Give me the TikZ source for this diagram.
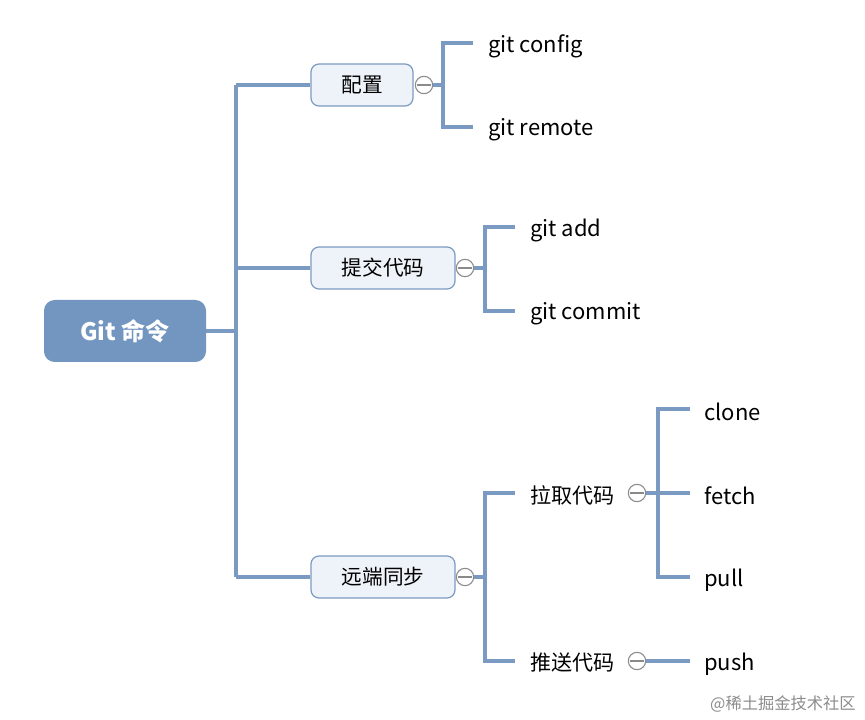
\documentclass[tikz,border=0pt]{standalone}
\usepackage{fontspec}
\setmainfont{Noto Sans CJK SC}
\definecolor{branch}{HTML}{7B9AC2}
\definecolor{rootfill}{HTML}{7296C0}
\definecolor{boxfill}{HTML}{EEF3F9}
\definecolor{collgray}{HTML}{8A8A8A}
\begin{document}
\begin{tikzpicture}[x=0.75pt,y=-0.75pt,
  conn/.style={draw=branch, line width=2.4pt},
  topic/.style={draw=branch, line width=0.9pt, fill=boxfill, rounded corners=6pt,
    minimum height=31.5pt, inner sep=0pt, font=\fontsize{15.5}{17}\selectfont},
  collapse/.style={circle, draw=collgray, fill=white, line width=0.8pt, minimum size=13pt, inner sep=0pt,
    path picture={\draw[collgray,line width=0.8pt] ([xshift=-5pt]path picture bounding box.center) -- ([xshift=5pt]path picture bounding box.center);}},
  leaf/.style={anchor=west, inner sep=0pt, font=\fontsize{16.5}{19}\selectfont},
  sub/.style={anchor=west, inner sep=0pt, font=\fontsize{15.8}{18}\selectfont}
]
\useasboundingbox[fill=white] (0,0) rectangle (865,720);

% root
\node[fill=rootfill, rounded corners=8pt, minimum width=121.5pt, minimum height=46.5pt, inner sep=0pt,
  text=white, font=\fontsize{18}{20}\selectfont\bfseries] (root) at (125,331) {Git 命令};

% main topics
\node[topic, minimum width=76.5pt] (b1) at (362,85) {配置};
\node[topic, minimum width=108pt] (b2) at (383,268) {提交代码};
\node[topic, minimum width=108pt] (b3) at (383,577) {远端同步};

% trunk
\coordinate (tr) at (236,331);
\coordinate (t1) at (236,85);
\coordinate (t2) at (236,268);
\coordinate (t3) at (236,577);
\draw[conn] (root.east) -- (tr);
\draw[conn] (t1) -- (t3);
\draw[conn] (t1) -- (b1.west);
\draw[conn] (t2) -- (b2.west);
\draw[conn] (t3) -- (b3.west);

% branch 1
\node[collapse] (c1) at (424,85) {};
\coordinate (v1) at (443,85);
\coordinate (v1t) at (443,43);
\coordinate (v1b) at (443,127);
\coordinate (e1a) at (473,43);
\coordinate (e1b) at (473,127);
\draw[conn] (c1.east) -- (v1);
\draw[conn] (e1a) -- (v1t) -- (v1b) -- (e1b);
\node[leaf] (l1a) at (488,46) {git config};
\node[leaf] (l1b) at (488,130) {git remote};

% branch 2
\node[collapse] (c2) at (465,268) {};
\coordinate (v2) at (485,268);
\coordinate (v2t) at (485,227);
\coordinate (v2b) at (485,311);
\coordinate (e2a) at (515,227);
\coordinate (e2b) at (515,311);
\draw[conn] (c2.east) -- (v2);
\draw[conn] (e2a) -- (v2t) -- (v2b) -- (e2b);
\node[leaf] (l2a) at (530,230) {git add};
\node[leaf] (l2b) at (530,314) {git commit};

% branch 3
\node[collapse] (c3) at (465,577) {};
\coordinate (v3) at (485,577);
\coordinate (v3t) at (485,493);
\coordinate (v3b) at (485,661);
\coordinate (e3a) at (515,493);
\coordinate (e3b) at (515,661);
\draw[conn] (c3.east) -- (v3);
\draw[conn] (e3a) -- (v3t) -- (v3b) -- (e3b);
\node[sub] (s1) at (530,495) {拉取代码};
\node[sub] (s2) at (530,663) {推送代码};

% sub branch pull
\node[collapse] (c4) at (637,493) {};
\coordinate (v4) at (658,493);
\coordinate (v4t) at (658,409);
\coordinate (v4b) at (658,577);
\coordinate (e4a) at (690,409);
\coordinate (e4m) at (690,493);
\coordinate (e4b) at (690,577);
\draw[conn] (c4.east) -- (e4m);
\draw[conn] (e4a) -- (v4t) -- (v4b) -- (e4b);
\node[leaf] (l4a) at (704,412) {clone};
\node[leaf] (l4b) at (704,496) {fetch};
\node[leaf] (l4c) at (704,580) {pull};

% sub branch push
\node[collapse] (c5) at (637,661) {};
\coordinate (e5) at (690,661);
\draw[conn] (c5.east) -- (e5);
\node[leaf] (l5) at (704,664) {push};

% watermark
\node[anchor=east, inner sep=0pt, text=black!45, font=\fontsize{12.2}{14}\selectfont] (wm) at (856,704) {@稀土掘金技术社区};
\end{tikzpicture}
\end{document}
